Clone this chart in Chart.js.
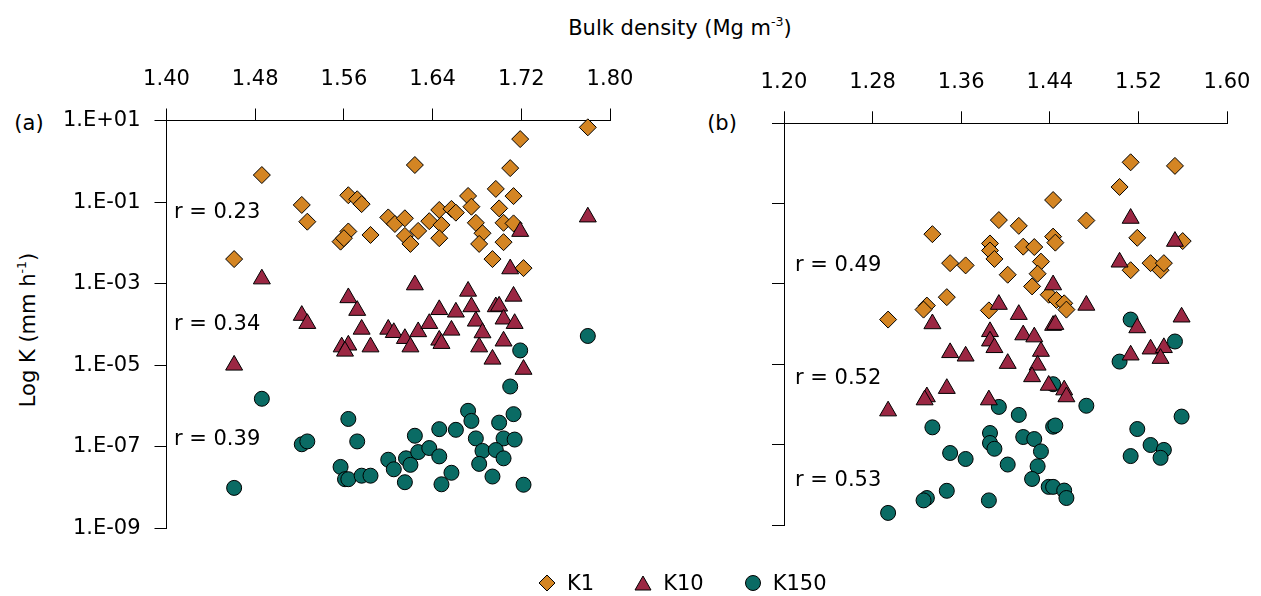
<!DOCTYPE html>
<html>
<head>
<meta charset="utf-8">
<script src="https://cdn.jsdelivr.net/npm/chart.js@4.4.1/dist/chart.umd.min.js"></script>
<style>
  html, body { margin: 0; padding: 0; background: #fff; }
  body { width: 1261px; height: 596px; position: relative; overflow: hidden;
         font-family: 'DejaVu Sans', sans-serif; color: #000; }
  .panel { position: absolute; top: 0; height: 596px; }
  #panelA { left: 0; width: 640px; }
  #panelB { left: 640px; width: 621px; }
  .txt { position: absolute; font-size: 21px; white-space: nowrap; line-height: 1;
         transform: translate(-50%, -50%); }
  .txt sup { font-size: 60%; vertical-align: 0.65em; line-height: 0; }
  #ylab { transform: translate(-50%, -50%) rotate(-90deg); }
  #legend { position: absolute; left: 538px; top: 571px; height: 24px;
            display: flex; align-items: center; font-size: 21px; white-space: nowrap; }
  #legend span.item { display: inline-flex; align-items: center; margin-right: 40px; }
  #legend svg { margin-right: 11px; }
</style>
</head>
<body>

<div class="txt" style="left:680px; top:28px;">Bulk density (Mg m<sup>-3</sup>)</div>
<div class="txt" id="ylab" style="left:28px; top:330px;">Log K (mm h<sup>-1</sup>)</div>
<div class="txt" style="left:29px; top:123px;">(a)</div>
<div class="txt" style="left:722px; top:123px;">(b)</div>

<div class="panel" id="panelA"><canvas id="chartA"></canvas></div>
<div class="panel" id="panelB"><canvas id="chartB"></canvas></div>

<div id="legend">
  <span class="item"><svg width="18" height="18" viewBox="0 0 18 18"><polygon points="9,1 17,9 9,17 1,9" fill="#D48523" stroke="#000" stroke-width="1"/></svg>K1</span>
  <span class="item"><svg width="18" height="18" viewBox="0 0 18 18"><polygon points="9,2 17,16 1,16" fill="#9B2743" stroke="#000" stroke-width="1"/></svg>K10</span>
  <span class="item"><svg width="18" height="18" viewBox="0 0 18 18"><circle cx="9" cy="9" r="7.5" fill="#0A6B64" stroke="#000" stroke-width="1"/></svg>K150</span>
</div>

<script>
// Data ------------------------------------------------------------------------------------

// (a) bulk density axis and values
const xTicksA = [1.40, 1.48, 1.56, 1.64, 1.72, 1.80];

const aK1x = [1.486, 1.624, 1.719, 1.780, 1.710, 1.697, 1.713, 1.522, 1.527, 1.564,
              1.572, 1.576, 1.600, 1.606, 1.615, 1.564, 1.557, 1.560, 1.584, 1.615,
              1.620, 1.627, 1.637, 1.646, 1.648, 1.646, 1.657, 1.661, 1.672, 1.675,
              1.679, 1.685, 1.682, 1.700, 1.704, 1.713, 1.704, 1.694, 1.722, 1.461];
const aK1y = [4.6e-1, 8.1e-1, 3.5, 6.8, 6.8e-1, 2.1e-1, 1.4e-1, 8.5e-2, 3.3e-2, 1.47e-1,
              1.17e-1, 8.9e-2, 4.2e-2, 2.9e-2, 4.0e-2, 1.9e-2, 1.07e-2, 1.3e-2, 1.56e-2, 1.48e-2,
              9.4e-3, 1.96e-2, 3.4e-2, 6.4e-2, 2.75e-2, 1.3e-2, 6.8e-2, 5.5e-2, 1.41e-1, 7.7e-2,
              3.1e-2, 1.72e-2, 9.4e-3, 7.0e-2, 3.1e-2, 3.0e-2, 1.04e-2, 4.0e-3, 2.4e-3, 4.0e-3];

const aK10x = [1.486, 1.461, 1.624, 1.522, 1.527, 1.564, 1.572, 1.576, 1.558, 1.564,
               1.561, 1.584, 1.600, 1.605, 1.615, 1.620, 1.627, 1.637, 1.646, 1.646,
               1.648, 1.657, 1.661, 1.672, 1.675, 1.679, 1.685, 1.682, 1.697, 1.700,
               1.713, 1.704, 1.714, 1.704, 1.694, 1.722, 1.719, 1.780, 1.710];
const aK10y = [1.3e-3, 1.0e-5, 9.3e-4, 1.66e-4, 1.05e-4, 4.5e-4, 2.2e-4, 7.6e-5, 2.8e-5, 3.1e-5,
               2.2e-5, 2.8e-5, 7.6e-5, 6.3e-5, 4.5e-5, 2.8e-5, 6.6e-5, 1.05e-4, 2.3e-4, 4.1e-5,
               3.4e-5, 7.2e-5, 2.0e-4, 6.5e-4, 2.7e-4, 1.2e-4, 6.2e-5, 2.8e-5, 2.7e-4, 2.8e-4,
               4.9e-4, 1.35e-4, 1.05e-4, 3.9e-5, 1.4e-5, 7.9e-6, 1.9e-2, 4.3e-2, 2.3e-3];

const aK150x = [1.780, 1.719, 1.710, 1.486, 1.461, 1.564, 1.522, 1.527, 1.572, 1.557,
                1.561, 1.564, 1.576, 1.584, 1.600, 1.605, 1.615, 1.616, 1.620, 1.624,
                1.627, 1.637, 1.646, 1.646, 1.648, 1.657, 1.661, 1.672, 1.675, 1.679,
                1.685, 1.682, 1.700, 1.713, 1.704, 1.714, 1.697, 1.704, 1.694, 1.722];
const aK150y = [5.2e-5, 2.3e-5, 3.0e-6, 1.5e-6, 9.8e-9, 4.8e-7, 1.15e-7, 1.35e-7, 1.35e-7, 3.2e-8,
                1.6e-8, 1.6e-8, 1.95e-8, 1.95e-8, 4.8e-8, 2.8e-8, 1.35e-8, 5.2e-8, 3.6e-8, 1.86e-7,
                7.4e-8, 9.3e-8, 5.8e-8, 2.7e-7, 1.2e-8, 2.3e-8, 2.6e-7, 7.6e-7, 4.3e-7, 1.6e-7,
                7.9e-8, 3.8e-8, 3.9e-7, 6.3e-7, 1.6e-7, 1.5e-7, 8.3e-8, 5.2e-8, 1.86e-8, 1.17e-8];

// (b)
const xTicksB = [1.20, 1.28, 1.36, 1.44, 1.52, 1.60];

const bK1x = [1.513, 1.553, 1.503, 1.443, 1.473, 1.394, 1.412, 1.334, 1.519, 1.560,
              1.443, 1.445, 1.386, 1.386, 1.390, 1.416, 1.426, 1.432, 1.350, 1.364,
              1.402, 1.429, 1.513, 1.531, 1.540, 1.543, 1.424, 1.439, 1.446, 1.453,
              1.455, 1.347, 1.329, 1.326, 1.294, 1.385];
const bK1y = [1.07, 8.7e-1, 2.6e-1, 1.23e-1, 3.8e-2, 3.9e-2, 2.8e-2, 1.74e-2, 1.41e-2, 1.17e-2,
              1.51e-2, 1.07e-2, 1.02e-2, 6.8e-3, 4.2e-3, 8.5e-3, 8.3e-3, 3.6e-3, 3.3e-3, 2.9e-3,
              1.7e-3, 1.8e-3, 2.2e-3, 3.3e-3, 2.2e-3, 3.3e-3, 8.7e-4, 5.4e-4, 4.0e-4, 3.3e-4,
              2.3e-4, 4.7e-4, 2.9e-4, 2.3e-4, 1.3e-4, 2.2e-4];

const bK10x = [1.513, 1.553, 1.503, 1.443, 1.394, 1.412, 1.473, 1.334, 1.559, 1.519,
               1.386, 1.386, 1.390, 1.416, 1.426, 1.432, 1.443, 1.445, 1.350, 1.364,
               1.402, 1.429, 1.424, 1.513, 1.531, 1.543, 1.540, 1.439, 1.453, 1.455,
               1.347, 1.329, 1.327, 1.294, 1.385];
const bK10y = [4.3e-2, 1.15e-2, 3.5e-3, 9.5e-4, 3.1e-4, 1.74e-4, 2.95e-4, 1.02e-4, 1.5e-4, 8.1e-5,
               6.5e-5, 3.8e-5, 2.6e-5, 5.4e-5, 4.8e-5, 2.1e-5, 9.3e-5, 9.8e-5, 1.95e-5, 1.6e-5,
               1.05e-5, 9.5e-6, 4.9e-6, 1.7e-5, 2.4e-5, 2.6e-5, 1.4e-5, 3.0e-6, 2.3e-6, 1.55e-6,
               2.5e-6, 1.55e-6, 1.3e-6, 6.9e-7, 1.3e-6];

const bK150x = [1.513, 1.553, 1.503, 1.443, 1.394, 1.412, 1.473, 1.334, 1.559, 1.519,
                1.386, 1.386, 1.390, 1.416, 1.426, 1.432, 1.443, 1.445, 1.350, 1.364,
                1.402, 1.429, 1.424, 1.513, 1.531, 1.543, 1.540, 1.439, 1.443, 1.453,
                1.455, 1.347, 1.329, 1.326, 1.385, 1.294];
const bK150y = [1.3e-4, 3.7e-5, 1.17e-5, 3.2e-6, 8.7e-7, 5.5e-7, 9.3e-7, 2.7e-7, 5.0e-7, 2.45e-7,
                1.95e-7, 1.1e-7, 7.9e-8, 1.55e-7, 1.38e-7, 6.8e-8, 2.8e-7, 3.0e-7, 6.2e-8, 4.4e-8,
                3.2e-8, 2.9e-8, 1.4e-8, 5.2e-8, 9.8e-8, 7.4e-8, 4.7e-8, 8.9e-9, 8.9e-9, 7.2e-9,
                4.7e-9, 7.1e-9, 4.7e-9, 4.1e-9, 4.1e-9, 2.0e-9];

// shared log axis
const yTicks = [1e1, 1e-1, 1e-3, 1e-5, 1e-7, 1e-9];

// correlation labels (text, x, y in data units)
const rLabelsA = [['r = 0.23', 1.4067, 5.5e-2], ['r = 0.34', 1.4067, 1.0e-4], ['r = 0.39', 1.4067, 1.5e-7]];
const rLabelsB = [['r = 0.49', 1.2099, 2.9e-3], ['r = 0.52', 1.2099, 4.4e-6], ['r = 0.53', 1.2099, 1.3e-8]];

// Style -----------------------------------------------------------------------------------

const FONT_FAMILY = "'DejaVu Sans', sans-serif";
const FONT_SIZE = 21;

const COLOR_K1 = '#D48523';
const COLOR_K10 = '#9B2743';
const COLOR_K150 = '#0A6B64';

Chart.defaults.font.family = FONT_FAMILY;
Chart.defaults.font.size = FONT_SIZE;
Chart.defaults.color = '#000';

// Helpers ---------------------------------------------------------------------------------

function zipPoints(xs, ys) {
    return xs.map(function (x, i) { return { x: x, y: ys[i] }; });
}

function sciLabel(v) {
    let e = Math.round(Math.log10(v));
    let sign = e < 0 ? '-' : '+';
    let mag = String(Math.abs(e)).padStart(2, '0');
    return '1.E' + sign + mag;
}

const rLabelPlugin = {
    id: 'rLabels',
    afterDatasetsDraw: function (chart, args, opts) {
        let ctx = chart.ctx;
        let xs = chart.scales.x;
        let ys = chart.scales.y;
        ctx.save();
        ctx.font = FONT_SIZE + 'px ' + FONT_FAMILY;
        ctx.fillStyle = '#000';
        ctx.textAlign = 'left';
        ctx.textBaseline = 'middle';
        (opts.items || []).forEach(function (t) {
            ctx.fillText(t[0], xs.getPixelForValue(t[1]), ys.getPixelForValue(t[2]));
        });
        ctx.restore();
    }
};

function buildPanel(canvasId, cfg) {
    let ctx = document.getElementById(canvasId).getContext('2d');

    let series = function (label, data, style, radius, color, order) {
        return {
            label: label,
            data: data,
            pointStyle: style,
            pointRadius: radius,
            pointHoverRadius: radius,
            pointBackgroundColor: color,
            pointBorderColor: '#000',
            pointBorderWidth: 1,
            showLine: false,
            clip: false,
            order: order
        };
    };

    return new Chart(ctx, {
        type: 'scatter',
        data: {
            datasets: [
                series('K1', zipPoints(cfg.k1x, cfg.k1y), 'rectRot', 8.5, COLOR_K1, 2),
                series('K10', zipPoints(cfg.k10x, cfg.k10y), 'triangle', 9.8, COLOR_K10, 0),
                series('K150', zipPoints(cfg.k150x, cfg.k150y), 'circle', 7.5, COLOR_K150, 1)
            ]
        },
        options: {
            responsive: true,
            maintainAspectRatio: false,
            animation: false,
            events: [],
            layout: { padding: cfg.padding },
            plugins: {
                legend: { display: false },
                tooltip: { enabled: false },
                rLabels: { items: cfg.rLabels }
            },
            scales: {
                x: {
                    type: 'linear',
                    position: 'top',
                    min: cfg.xTicks[0],
                    max: cfg.xTicks[cfg.xTicks.length - 1],
                    afterBuildTicks: function (scale) {
                        scale.ticks = cfg.xTicks.map(function (v) { return { value: v }; });
                    },
                    afterFit: function (scale) {
                        scale.height = cfg.xAxisHeight;
                        // edge labels may hang outside the plot, the padding leaves room
                        scale.paddingLeft = 0;
                        scale.paddingRight = 0;
                    },
                    grid: { display: true, drawOnChartArea: false, drawTicks: true,
                            tickLength: 12, color: '#000', lineWidth: 1 },
                    border: { display: true, color: '#000', width: 1 },
                    ticks: {
                        padding: 16,
                        maxRotation: 0,
                        autoSkip: false,
                        callback: function (v) { return Number(v).toFixed(2); }
                    }
                },
                y: {
                    type: 'logarithmic',
                    position: 'left',
                    min: 1e-9,
                    max: 1e1,
                    afterBuildTicks: function (scale) {
                        scale.ticks = yTicks.map(function (v) { return { value: v }; });
                    },
                    afterFit: function (scale) {
                        scale.width = cfg.yAxisWidth;
                        scale.paddingTop = 0;
                        scale.paddingBottom = 0;
                    },
                    grid: { display: true, drawOnChartArea: false, drawTicks: true,
                            tickLength: 12, color: '#000', lineWidth: 1 },
                    border: { display: true, color: '#000', width: 1 },
                    ticks: {
                        display: cfg.yLabels,
                        padding: 14,
                        autoSkip: false,
                        callback: function (v) { return sciLabel(v); }
                    }
                }
            }
        },
        plugins: [rLabelPlugin]
    });
}

// Render ----------------------------------------------------------------------------------

buildPanel('chartA', {
    k1x: aK1x, k1y: aK1y, k10x: aK10x, k10y: aK10y, k150x: aK150x, k150y: aK150y,
    xTicks: xTicksA, rLabels: rLabelsA, yLabels: true,
    yAxisWidth: 166.5, xAxisHeight: 120.5,
    padding: { left: 0, top: 0, right: 30, bottom: 67.7 }
});

buildPanel('chartB', {
    k1x: bK1x, k1y: bK1y, k10x: bK10x, k10y: bK10y, k150x: bK150x, k150y: bK150y,
    xTicks: xTicksB, rLabels: rLabelsB, yLabels: false,
    yAxisWidth: 144, xAxisHeight: 123.3,
    padding: { left: 0, top: 0, right: 34, bottom: 71 }
});
</script>
</body>
</html>
